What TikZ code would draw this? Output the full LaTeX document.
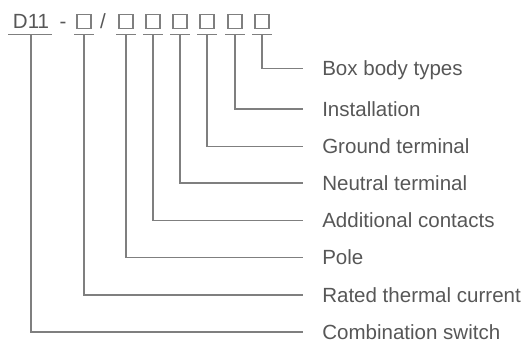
\documentclass[tikz,border=0pt]{standalone}
\usepackage{fontspec}
\setmainfont{Liberation Sans}
\usetikzlibrary{positioning}
\definecolor{txtgray}{HTML}{575757}
\definecolor{linegray}{HTML}{7F7F7F}

\begin{document}
\begin{tikzpicture}[
x=0.75pt,y=-0.75pt,
every node/.style={font=\fontsize{15.4pt}{18pt}\selectfont,text=txtgray},
code/.style={inner sep=0pt,anchor=base},
sq/.style={rectangle,draw=linegray,line width=1.1pt,inner sep=0pt,minimum size=10.2pt},
lbl/.style={inner sep=0pt,text height=11pt,text depth=0pt,anchor=west},
rule/.style={draw=linegray,line width=0.8pt}
]
\useasboundingbox (0,0) rectangle (531,339);
% type code
\node[code] (d11) at (31,28.5) {D11};
\node[code] (dash) at (63,28.5) {-};
\node[code] (slash) at (103,28.5) {/};
\node[sq] (b1) at (84,21.5) {};
\node[sq] (b2) at (126,21.5) {};
\node[sq] (b3) at (153,21.5) {};
\node[sq] (b4) at (180,21.5) {};
\node[sq] (b5) at (207,21.5) {};
\node[sq] (b6) at (235,21.5) {};
\node[sq] (b7) at (262,21.5) {};
% underlines
\coordinate[below=4.1pt of d11.south] (u0);
\coordinate[below=4.1pt of b1.south] (u1);
\coordinate[below=4.1pt of b2.south] (u2);
\coordinate[below=4.1pt of b3.south] (u3);
\coordinate[below=4.1pt of b4.south] (u4);
\coordinate[below=4.1pt of b5.south] (u5);
\coordinate[below=4.1pt of b6.south] (u6);
\coordinate[below=4.1pt of b7.south] (u7);
\draw[rule] ([xshift=-17pt]u0) -- ([xshift=16pt]u0);
\draw[rule] ([xshift=-7.5pt]u1) -- ([xshift=7.5pt]u1);
\draw[rule] ([xshift=-7.5pt]u2) -- ([xshift=7.5pt]u2);
\draw[rule] ([xshift=-7.5pt]u3) -- ([xshift=7.5pt]u3);
\draw[rule] ([xshift=-7.5pt]u4) -- ([xshift=7.5pt]u4);
\draw[rule] ([xshift=-7.5pt]u5) -- ([xshift=7.5pt]u5);
\draw[rule] ([xshift=-7.5pt]u6) -- ([xshift=7.5pt]u6);
\draw[rule] ([xshift=-7.5pt]u7) -- ([xshift=7.5pt]u7);
% meanings
\node[lbl] (body) at (322,68.3) {Box body types};
\node[lbl] (inst) at (322,109) {Installation};
\node[lbl] (gnd) at (322,146.5) {Ground terminal};
\node[lbl] (neut) at (322,183) {Neutral terminal};
\node[lbl] (addc) at (322,220.5) {Additional contacts};
\node[lbl] (pole) at (322,257.5) {Pole};
\node[lbl] (rtc) at (322,295) {Rated thermal current};
\node[lbl] (comb) at (322,332) {Combination switch};
% leaders
\draw[rule] (u7) |- ([xshift=-14.25pt]body.west);
\draw[rule] (u6) |- ([xshift=-14.25pt]inst.west);
\draw[rule] (u5) |- ([xshift=-14.25pt]gnd.west);
\draw[rule] (u4) |- ([xshift=-14.25pt]neut.west);
\draw[rule] (u3) |- ([xshift=-14.25pt]addc.west);
\draw[rule] (u2) |- ([xshift=-14.25pt]pole.west);
\draw[rule] (u1) |- ([xshift=-14.25pt]rtc.west);
\draw[rule] (u0) |- ([xshift=-14.25pt]comb.west);
\end{tikzpicture}
\end{document}
